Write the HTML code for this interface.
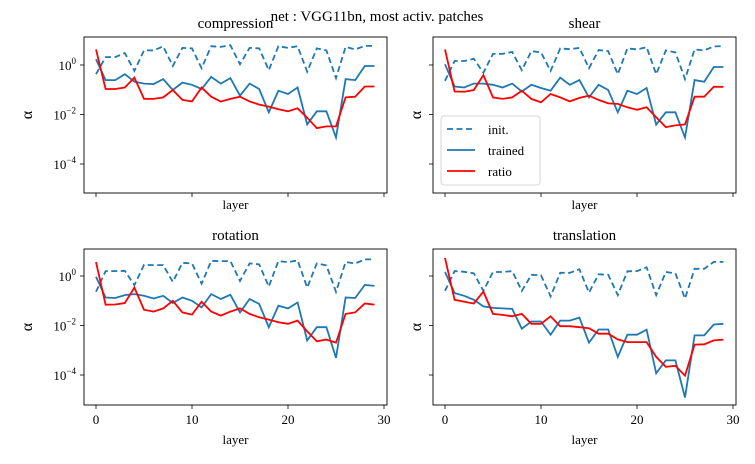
<!DOCTYPE html>
<html><head><meta charset="utf-8"><style>
body{margin:0;background:#fff;}
svg{display:block;font-family:"Liberation Serif",serif;}
</style></head><body>
<svg id="fig" width="755" height="464" viewBox="0 0 755 464">
<text x="377" y="21" text-anchor="middle" font-size="15">net : VGG11bn, most activ. patches</text>
</svg>
<script>
// log10 values, layers 0..29
const layers = Array.from({length:30},(_,i)=>i);
const compInit = [-0.37,0.32,0.32,0.48,-0.24,0.59,0.59,0.75,-0.04,0.69,0.67,-0.13,0.76,0.73,0.8,0.03,0.69,0.67,-0.21,0.76,0.69,0.76,-0.27,0.67,0.59,-0.53,0.73,0.63,0.77,0.77];
const compTrained = [0.23,-0.61,-0.61,-0.37,-0.67,-0.75,-0.77,-0.57,-1.01,-0.71,-0.8,-0.97,-0.48,-0.75,-0.53,-1.24,-0.75,-0.97,-1.91,-1.04,-1.17,-0.91,-2.4,-1.87,-1.87,-2.93,-0.57,-0.61,-0.04,-0.04];
const compRatio = [0.63,-0.97,-0.97,-0.91,-0.51,-1.37,-1.37,-1.31,-1.01,-1.41,-1.47,-0.91,-1.28,-1.48,-1.37,-1.28,-1.47,-1.6,-1.68,-1.79,-1.87,-1.75,-2.13,-2.55,-2.48,-2.48,-1.31,-1.28,-0.87,-0.87];
const shearInit = [-0.64,0.16,0.16,0.25,-0.31,0.45,0.45,0.53,-0.21,0.56,0.51,-0.24,0.67,0.64,0.69,-0.13,0.6,0.56,-0.37,0.67,0.63,0.72,-0.37,0.59,0.51,-0.57,0.63,0.59,0.75,0.76];
const shearTrained = [0.03,-0.87,-0.91,-0.75,-0.75,-0.8,-0.91,-0.75,-1.07,-0.8,-0.93,-1.04,-0.51,-0.8,-0.61,-1.31,-0.8,-1.01,-1.91,-1.04,-1.17,-0.93,-2.41,-1.91,-1.91,-2.93,-0.61,-0.68,-0.08,-0.08];
const shearRatio = [0.63,-1.07,-1.08,-1.01,-0.41,-1.31,-1.37,-1.31,-1.04,-1.37,-1.51,-1.17,-1.31,-1.47,-1.33,-1.24,-1.41,-1.55,-1.57,-1.71,-1.81,-1.71,-2.11,-2.51,-2.44,-2.4,-1.28,-1.28,-0.88,-0.88];
const rotInit = [-0.64,0.2,0.2,0.21,-0.37,0.45,0.44,0.44,-0.24,0.53,0.51,-0.31,0.61,0.6,0.6,-0.2,0.51,0.47,-0.43,0.6,0.56,0.63,-0.47,0.51,0.43,-0.64,0.56,0.51,0.67,0.67];
const rotTrained = [-0.03,-0.87,-0.89,-0.77,-0.73,-0.8,-0.91,-0.8,-1.09,-0.87,-1.0,-1.27,-0.73,-0.93,-0.76,-1.47,-0.93,-1.13,-2.07,-1.2,-1.31,-1.07,-2.6,-2.07,-2.07,-3.31,-0.87,-0.89,-0.36,-0.4];
const rotRatio = [0.56,-1.16,-1.15,-1.09,-0.47,-1.36,-1.44,-1.31,-1.0,-1.47,-1.56,-1.04,-1.44,-1.6,-1.44,-1.31,-1.53,-1.67,-1.76,-1.87,-1.93,-1.8,-2.24,-2.64,-2.57,-2.69,-1.53,-1.47,-1.11,-1.16];
const transInit = [-0.6,0.2,0.17,0.11,-0.6,0.16,0.16,0.2,-0.6,0.05,0.03,-0.83,0.13,0.13,0.27,-0.67,0.07,0.05,-0.77,0.19,0.2,0.35,-0.77,0.16,0.11,-0.91,0.29,0.29,0.57,0.57];
const transTrained = [0.16,-0.69,-0.8,-0.96,-1.23,-1.29,-1.31,-1.33,-2.13,-1.84,-1.84,-2.37,-1.8,-1.8,-1.68,-2.69,-2.16,-2.16,-3.27,-2.37,-2.37,-2.17,-3.93,-3.41,-3.41,-4.91,-2.4,-2.4,-1.96,-1.93];
const transRatio = [0.73,-0.96,-1.04,-1.11,-0.63,-1.53,-1.57,-1.63,-1.53,-1.93,-1.93,-1.63,-2.03,-2.03,-2.07,-2.11,-2.33,-2.33,-2.56,-2.67,-2.67,-2.67,-3.27,-3.67,-3.63,-4.03,-2.77,-2.76,-2.6,-2.57];
const xTicks = [0,10,20,30];
const yTicks = [0,-2,-4];

const NS='http://www.w3.org/2000/svg';
const svg=document.getElementById('fig');
function mk(tag,attrs,parent){const e=document.createElementNS(NS,tag);for(const k in attrs)e.setAttribute(k,attrs[k]);(parent||svg).appendChild(e);return e;}

const panels=[
 {key:'compression',title:'compression',L:84,T:37,R:387,B:193,y0:65,init:compInit,tr:compTrained,ra:compRatio,xl:false,yl:true},
 {key:'shear',title:'shear',L:433,T:37,R:736,B:193,y0:65,init:shearInit,tr:shearTrained,ra:shearRatio,xl:false,yl:false,legend:true},
 {key:'rotation',title:'rotation',L:84,T:249,R:387,B:405,y0:276,init:rotInit,tr:rotTrained,ra:rotRatio,xl:true,yl:true},
 {key:'translation',title:'translation',L:433,T:249,R:736,B:405,y0:276,init:transInit,tr:transTrained,ra:transRatio,xl:true,yl:false}
];

panels.forEach(p=>{
 const g=mk('g',{});
 
 
 const x0=p.L+12;
 const sx=v=>x0+v*9.6;
 const sy=v=>p.y0-v*24.75;
 const t=mk('text',{x:(p.L+p.R)/2,y:p.T-9,'text-anchor':'middle','font-size':15},g);
 t.textContent=p.title;
 
 
 xTicks.forEach(v=>{
  const tk=mk('line',{x1:sx(v),x2:sx(v),y1:p.B,y2:p.B+4,stroke:'#000','stroke-width':0.8},g);
  
  
  if(p.xl){const tl=mk('text',{x:sx(v),y:p.B+19,'text-anchor':'middle','font-size':13},g);tl.textContent=v;
   
   }
 });
 yTicks.forEach(v=>{
  const tk=mk('line',{x1:p.L-4,x2:p.L,y1:sy(v),y2:sy(v),stroke:'#000','stroke-width':0.8},g);
  
  
  if(p.yl){const tl=mk('text',{x:p.L-8,y:sy(v)+5,'text-anchor':'end','font-size':13},g);
   
   
   tl.textContent='10';const s=mk('tspan',{dy:-6,'font-size':9},tl);s.textContent=(v===0?'0':'\u2212'+(-v));}
 });
 const xl=mk('text',{x:(p.L+p.R)/2,y:0,'text-anchor':'middle','font-size':13},g);
 xl.setAttribute('y', p.xl? p.B+39 : p.B+16);
 xl.textContent='layer';
 
 
 const yl=mk('text',{x:0,y:0,'text-anchor':'middle','font-size':16,transform:`translate(${p.L-(p.yl?52:12)},${(p.T+p.B)/2}) rotate(-90)`},g);
 yl.textContent='\u03b1';
 
 
 const cp='clip-'+p.key;
 const cpe=mk('clipPath',{id:cp},g);mk('rect',{x:p.L,y:p.T,width:p.R-p.L,height:p.B-p.T},cpe);
 const series=[[p.init,'#1f77b4','6,3.5','init'],[p.tr,'#1f77b4','','trained'],[p.ra,'#ff0000','','ratio']];
 series.forEach(([arr,c,d,n])=>{
  const pts=arr.map((v,i)=>sx(layers[i]).toFixed(1)+','+sy(v).toFixed(1)).join(' ');
  const pl=mk('polyline',{points:pts,fill:'none',stroke:c,'stroke-width':1.8,'stroke-dasharray':d,'clip-path':`url(#${cp})`},g);
  
  
 });
 const fr=mk('rect',{x:p.L,y:p.T,width:p.R-p.L,height:p.B-p.T,fill:'none',stroke:'#000','stroke-width':0.9},g);
 
 
 if(p.legend){
  const lg=mk('g',{},g);
  
  
  mk('rect',{x:441,y:116,width:99,height:69,rx:3,fill:'#fff','fill-opacity':0.85,stroke:'#ccc','stroke-width':0.8},lg);
  series.forEach(([arr,c,d,n],k)=>{
   const yy=129+k*21;
   const ln=mk('line',{x1:447,x2:475,y1:yy,y2:yy,stroke:c,'stroke-width':1.8,'stroke-dasharray':d},lg);
   
   
   const tx=mk('text',{x:488,y:yy+5,'font-size':13},lg);
   tx.textContent=(n==='init'?'init.':n);
   
   
  });
 }
});
</script>
</body></html>
